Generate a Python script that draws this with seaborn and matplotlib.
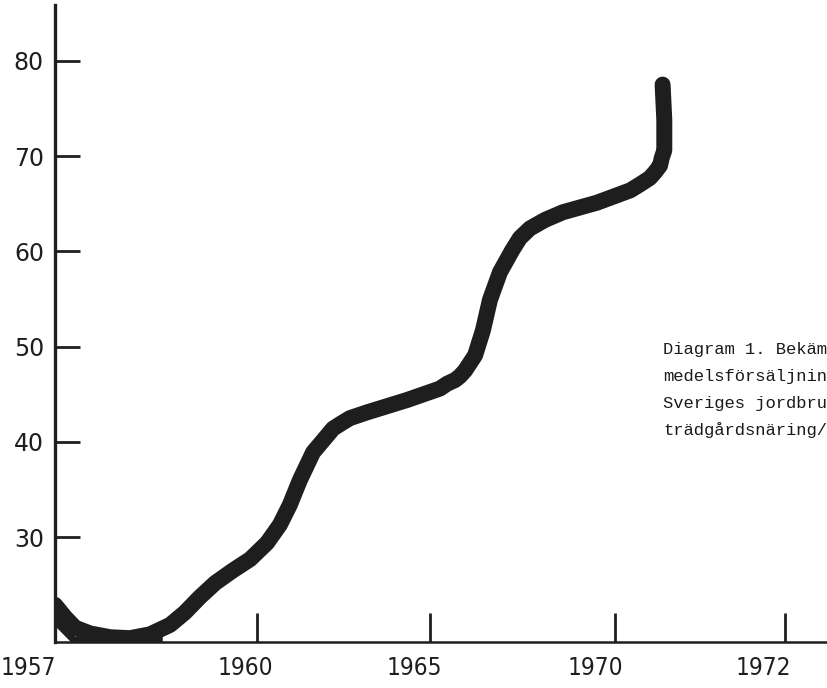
import numpy as np
import pandas as pd
import matplotlib
matplotlib.use("Agg")
import matplotlib.pyplot as plt
import matplotlib.transforms as mtransforms
import seaborn as sns

# DATA
# -----------------------------------------------------------------------------
years = [1957.00, 1957.15, 1957.30, 1957.52, 1957.82, 1958.11, 1958.41, 1958.71,
         1958.93, 1959.15, 1959.38, 1959.64, 1959.90, 1960.29, 1960.66, 1960.95,
         1961.24, 1961.62, 1962.20, 1962.46, 1962.69, 1963.18, 1964.34, 1965.27,
         1965.46, 1965.68, 1965.81, 1965.95, 1966.22, 1966.43, 1966.62, 1966.89,
         1967.22, 1967.43, 1967.70, 1968.11, 1968.59, 1969.51, 1970.18, 1970.29,
         1970.41, 1970.47, 1970.53, 1970.55, 1970.58, 1970.58, 1970.56]
sales = [22.9, 21.6, 20.5, 19.9, 19.5, 19.4, 19.8, 20.8,
         22.1, 23.7, 25.2, 26.5, 27.7, 29.4, 31.3, 33.4,
         36.0, 38.9, 41.4, 42.0, 42.5, 43.1, 44.4, 45.6,
         46.1, 46.5, 46.9, 47.5, 49.1, 51.7, 54.9, 57.8,
         60.1, 61.4, 62.4, 63.3, 64.1, 65.1, 66.4, 67.0,
         67.7, 68.3, 69.0, 69.8, 70.6, 73.8, 77.5]

# second, thinner pen stroke at the start of the curve
retrace_years = [1957.00, 1957.28, 1957.80, 1958.60]
retrace_sales = [21.2, 19.2, 19.3, 19.3]

ytick_values = [30, 40, 50, 60, 70, 80]
xtick_years = [1957, 1960, 1965, 1970, 1972]
xtick_labels = ["1957", "1960", "1965", "1970", "1972"]

caption_lines = ["Diagram 1. Bekäm",
                 "medelsförsäljnin",
                 "Sveriges jordbru",
                 "trädgårdsnäring/"]

# hand drawn year axis is not evenly spaced -> piecewise linear scale
knot_years = [1950, 1957, 1960, 1965, 1970, 1972, 1980]
knot_pos = [-471, 0, 202, 375, 560, 730, 1410]


def fwd(x):
    return np.interp(x, knot_years, knot_pos)


def inv(p):
    return np.interp(p, knot_pos, knot_years)


# -----------------------------------------------------------------------------
sns.set_theme(style="white")
plt.rcParams["font.family"] = ["DejaVu Sans"]

df = pd.DataFrame({"year": years, "sales": sales})
df_retrace = pd.DataFrame({"year": retrace_years, "sales": retrace_sales})

fig = plt.figure(figsize=(8.28, 6.88), dpi=100)
ax = fig.add_axes([55 / 828, 46 / 688, 773 / 828, 637 / 688])
ax.set_xscale("function", functions=(fwd, inv))

ink = "#1e1e1e"
sns.lineplot(ax=ax, data=df_retrace, x="year", y="sales", sort=False, estimator=None,
             color=ink, linewidth=5, solid_capstyle="butt")
sns.lineplot(ax=ax, data=df, x="year", y="sales", sort=False, estimator=None,
             color=ink, linewidth=11.5, solid_capstyle="round", solid_joinstyle="round")

ax.set_xlim(1957, inv(773))
ax.set_ylim(19.0, 85.85)
ax.set_xlabel("")
ax.set_ylabel("")

sns.despine(ax=ax)
ax.spines["left"].set_linewidth(2.4)
ax.spines["left"].set_color(ink)
ax.spines["bottom"].set_linewidth(1.8)
ax.spines["bottom"].set_color(ink)

ax.set_yticks(ytick_values)
ax.set_yticklabels([str(v) for v in ytick_values])
ax.tick_params(axis="y", direction="in", length=18, width=2, color=ink,
               labelsize=17, pad=8, labelcolor=ink, left=True)

ax.set_xticks(xtick_years)
ax.set_xticklabels(xtick_labels)
ax.xaxis.set_minor_locator(matplotlib.ticker.NullLocator())
ax.tick_params(axis="x", direction="in", length=21, width=2, color=ink,
               labelsize=17.5, pad=10, labelcolor=ink, bottom=True)

# the typed year labels sit a bit left of their tick marks
shifts = [-27, -12, -16, -20, -22]
for lab, dx in zip(ax.get_xticklabels(), shifts):
    lab.set_fontstretch("condensed")
    lab.set_transform(lab.get_transform() + mtransforms.ScaledTranslation(dx / 100, 0, fig.dpi_scale_trans))

# typewritten caption, cut off at the right edge of the page
for i, line in enumerate(caption_lines):
    fig.text(663 / 828, 1 - (354 + 27 * i) / 688, line, fontsize=12.3,
             family=["Liberation Mono", "DejaVu Sans Mono"], color="#1a1a1a",
             ha="left", va="baseline")

fig.savefig("out.png", dpi=100)
plt.close(fig)
